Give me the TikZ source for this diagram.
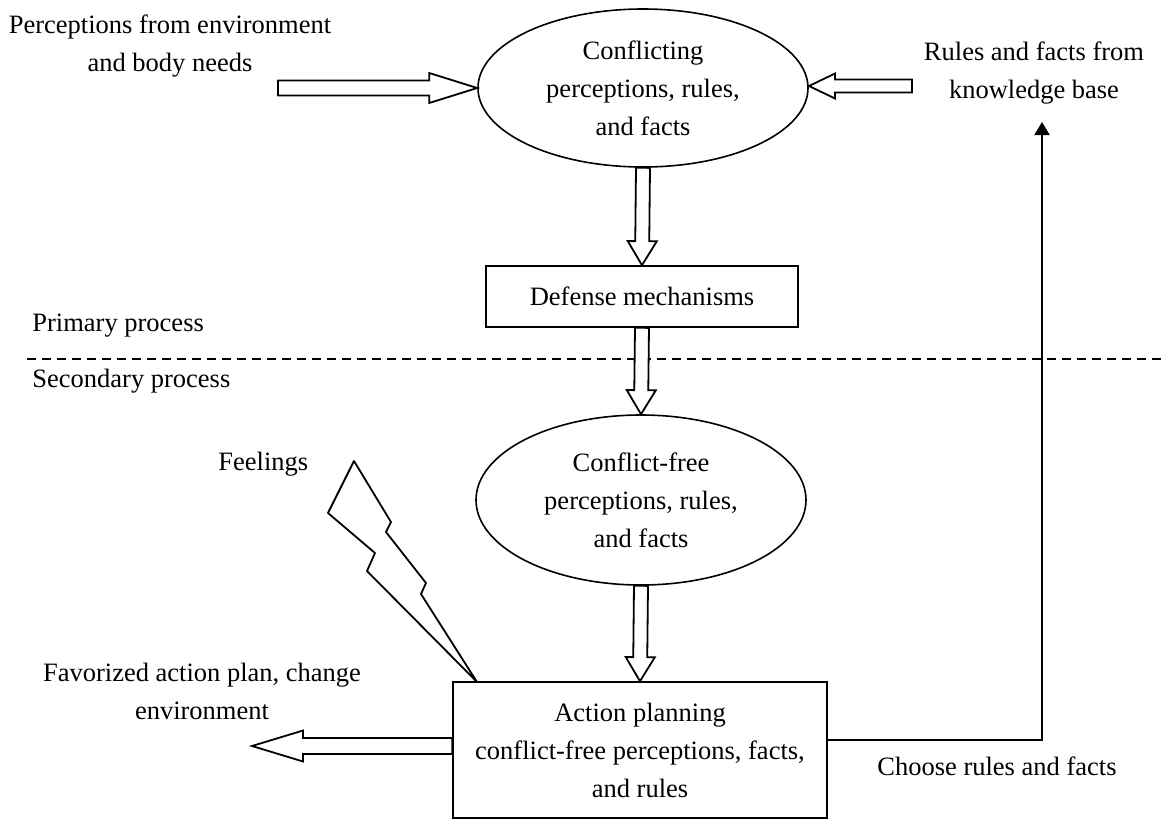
\documentclass[tikz,border=0pt]{standalone}
\usepackage{fontspec}
\setmainfont{Liberation Serif}
\usetikzlibrary{shapes.geometric,calc,arrows.meta}

% hollow block arrow from #1 to #2: shaft half width #3, head half width #4, head length #5
\newcommand{\fatarrow}[5]{%
  \coordinate (fa-h) at ($(#2)!#5!(#1)$);
  \draw[fat] ($(#1)!#3!90:(#2)$) -- ($(fa-h)!#3!90:(#2)$) -- ($(fa-h)!#4!90:(#2)$)
    -- (#2) -- ($(fa-h)!#4!-90:(#2)$) -- ($(fa-h)!#3!-90:(#2)$)
    -- ($(#1)!#3!-90:(#2)$) -- cycle;}

\begin{document}
\begin{tikzpicture}[x=0.5pt,y=-0.5pt,
  every node/.style={font=\fontsize{13.25}{19}\selectfont, inner sep=0pt},
  label/.style={align=center},
  oval/.style={draw, line width=0.8pt, ellipse, align=center},
  panel/.style={draw, line width=0.8pt, rectangle, align=center},
  fat/.style={draw, line width=0.9pt, fill=white, line join=miter},
  link/.style={draw, line width=1pt, -{Triangle[length=6.5pt,width=7.5pt]}},
  bolt/.style={draw, line width=0.9pt, line join=round},
  divider/.style={draw, line width=0.6pt, dash pattern=on 4.5pt off 3pt}]

\useasboundingbox (0,0) rectangle (1164,820);

% main stages
\node[oval, minimum width=165pt, minimum height=79pt] (conf) at (643,88)
  {Conflicting\\perceptions, rules,\\and facts};
\node[panel, minimum width=156pt, minimum height=30.5pt] (def) at (642,296.5)
  {Defense mechanisms};
\node[oval, minimum width=165pt, minimum height=85pt] (free) at (641,500)
  {Conflict-free\\perceptions, rules,\\and facts};
\node[panel, minimum width=187pt, minimum height=68pt] (act) at (640,750)
  {Action planning\\conflict-free perceptions, facts,\\and rules};

% side labels
\node[label] (perc) at (170,46) {Perceptions from environment\\and body needs};
\node[label] (kb) at (1034,73.5) {Rules and facts from\\knowledge base};
\node[anchor=base west] (prim) at (32,331) {Primary process};
\node[anchor=base west] (sec) at (32,387) {Secondary process};
\node[anchor=base west] (feel) at (218,470) {Feelings};
\node[label] (fav) at (202,691.5) {Favorized action plan, change\\environment};
\node[anchor=base west] (choose) at (877,775) {Choose rules and facts};

% boundary between primary and secondary process
\coordinate (divL) at (27,359);
\coordinate (divR) at (1164,359);
\draw[divider] (divL) -- (divR);

% inputs into the conflicting stage
\coordinate (percTail) at (278,88);
\fatarrow{percTail}{conf.west}{3.75pt}{7.5pt}{24pt}
\coordinate (kbTail) at (912,86);
\coordinate (kbHead) at (809,86);
\fatarrow{kbTail}{kbHead}{3.25pt}{6.25pt}{13pt}

% flow down the stages
\fatarrow{conf.south}{def.north}{3.5pt}{7.25pt}{12pt}
\fatarrow{def.south}{free.north}{3.5pt}{7.25pt}{12pt}
\fatarrow{free.south}{act.north}{3.5pt}{7.25pt}{12pt}

% output of action planning
\coordinate (outTail) at ($(act.west)+(0,-4)$);
\coordinate (outTip) at (252,746);
\fatarrow{outTail}{outTip}{4pt}{7.75pt}{25.5pt}

% feedback to the knowledge base
\coordinate (fbStart) at ($(act.east)+(0,-10)$);
\coordinate (fbEnd) at (1042,122);
\draw[link] (fbStart) -| (fbEnd);

% lightning bolt of feelings striking the action planning box
\coordinate (boltTip) at (477,682);
\draw[bolt]
  (354,461) -- (391,522) -- (386,532) -- (426,583) -- (421,594) -- (boltTip)
  -- (367,571) -- (375,553) -- (328,513) -- cycle;

\end{tikzpicture}
\end{document}
